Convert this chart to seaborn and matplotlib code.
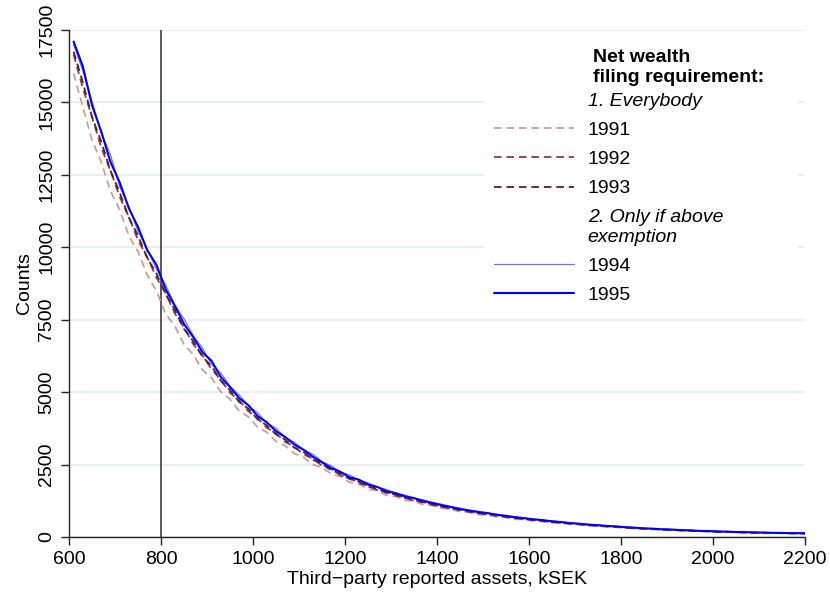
import matplotlib
matplotlib.use("Agg")
import matplotlib.pyplot as plt
from matplotlib.lines import Line2D
from matplotlib.patches import Rectangle
import numpy as np
import pandas as pd
import seaborn as sns

# Bin midpoints of third-party reported assets (kSEK)
assets = list(range(610, 2200, 20)) + [2200]

counts_1991 = [16000, 14850, 13700, 12950, 11950, 11300, 10400, 9850, 9050, 8500,
               7700, 7280, 6650, 6300, 5770, 5490, 5010, 4760, 4350, 4150,
               3790, 3620, 3300, 3150, 2880, 2750, 2500, 2400, 2180, 2090,
               1890, 1830, 1650, 1600, 1440, 1405, 1265, 1235, 1115, 1090,
               985, 962, 872, 852, 774, 758, 690, 676, 614, 603,
               550, 540, 491, 482, 439, 431, 393, 385, 352, 345,
               315, 307, 281, 276, 252, 246, 225, 221, 202, 198,
               181, 178, 164, 161, 148, 146, 136, 134, 126, 124, 120]

counts_1992 = [16650, 15500, 14500, 13450, 12650, 11750, 11050, 10250, 9660, 8960,
               8420, 7720, 7240, 6660, 6270, 5790, 5430, 4980, 4710, 4340,
               4100, 3770, 3580, 3280, 3120, 2850, 2710, 2460, 2350, 2130,
               2040, 1860, 1770, 1620, 1550, 1420, 1370, 1250, 1210, 1100,
               1068, 970, 945, 860, 840, 765, 750, 682, 668, 605,
               595, 540, 530, 480, 471, 427, 418, 380, 373, 339,
               331, 298, 294, 266, 262, 238, 235, 212, 209, 190,
               187, 171, 170, 155, 154, 141, 142, 130, 131, 121, 121]

counts_1993 = [16750, 15700, 14500, 13650, 12650, 11900, 11030, 10400, 9630, 9100,
               8380, 7840, 7180, 6760, 6220, 5900, 5390, 5070, 4660, 4430,
               4060, 3850, 3540, 3360, 3080, 2930, 2670, 2530, 2300, 2190,
               2000, 1910, 1740, 1670, 1520, 1470, 1345, 1295, 1185, 1140,
               1045, 1008, 922, 893, 820, 800, 732, 710, 650, 632,
               582, 565, 517, 502, 458, 446, 406, 398, 362, 355,
               322, 313, 285, 279, 254, 250, 228, 222, 203, 200,
               182, 179, 165, 162, 150, 148, 138, 136, 128, 127, 122]

counts_1994 = [17000, 16100, 15050, 13950, 13200, 12100, 11420, 10550, 9950, 9250,
               8700, 8020, 7530, 6950, 6520, 5950, 5660, 5200, 4900, 4530,
               4290, 3930, 3750, 3440, 3270, 3010, 2860, 2600, 2460, 2240,
               2140, 1970, 1870, 1720, 1640, 1510, 1455, 1335, 1285, 1175,
               1135, 1040, 1000, 915, 890, 822, 790, 728, 702, 648,
               626, 579, 557, 515, 492, 456, 436, 406, 389, 362,
               346, 319, 306, 285, 273, 254, 244, 227, 218, 203,
               196, 182, 177, 165, 161, 150, 148, 138, 137, 130, 128]

counts_1995 = [17100, 16250, 14900, 14000, 12950, 12250, 11350, 10700, 9900, 9400,
               8550, 7980, 7350, 6900, 6380, 6080, 5520, 5180, 4790, 4550,
               4170, 3960, 3650, 3450, 3190, 3010, 2770, 2580, 2380, 2250,
               2060, 1980, 1810, 1730, 1585, 1515, 1400, 1345, 1240, 1180,
               1095, 1040, 962, 918, 858, 826, 764, 730, 680, 650,
               607, 582, 541, 516, 478, 458, 425, 408, 380, 365,
               337, 321, 297, 287, 265, 257, 237, 229, 211, 206,
               189, 185, 171, 168, 156, 153, 143, 141, 132, 131, 127]

years = ["1991", "1992", "1993", "1994", "1995"]
series = [counts_1991, counts_1992, counts_1993, counts_1994, counts_1995]
threshold = 800

colors = {"1991": "#cc9e9e", "1992": "#8e3b3b", "1993": "#5c1f1f",
          "1994": "#6f6fff", "1995": "#0000ff"}
dash = (0, (4.2, 2.7))
styles = {"1991": dash, "1992": dash, "1993": dash, "1994": "-", "1995": "-"}
widths = {"1991": 1.3, "1992": 1.3, "1993": 1.3, "1994": 0.9, "1995": 1.5}

df = pd.DataFrame({
    "assets": np.tile(assets, len(years)),
    "count": np.concatenate([np.asarray(s, float) for s in series]),
    "year": np.repeat(years, len(assets)),
})

sns.set_style("ticks")
plt.rcParams["font.family"] = ["Liberation Sans", "DejaVu Sans"]
plt.rcParams["text.color"] = "black"
plt.rcParams["axes.labelcolor"] = "black"

W, H = 830, 593
fig = plt.figure(figsize=(W / 100, H / 100), dpi=100)
ax = fig.add_axes([69 / W, 56 / H, 736 / W, 507 / H])

for yr in years:
    sub = df[df["year"] == yr]
    sns.lineplot(data=sub, x="assets", y="count", ax=ax, color=colors[yr],
                 linestyle=styles[yr], linewidth=widths[yr], errorbar=None,
                 legend=False, zorder=3)

ax.axvline(threshold, color="#4d4d4d", lw=1.3, zorder=2.5)

ax.set_xlim(600, 2200)
ax.set_ylim(0, 17500)
ax.set_xticks(range(600, 2201, 200))
ax.set_yticks(range(0, 17501, 2500))
ax.yaxis.grid(True, color="#e7eff2", lw=1.3)
ax.xaxis.grid(False)
ax.set_axisbelow(True)

for side in ["top", "right"]:
    ax.spines[side].set_visible(False)
for side in ["left", "bottom"]:
    ax.spines[side].set_color("#222222")
    ax.spines[side].set_linewidth(1.0)

fs = 14
ax.tick_params(axis="both", colors="#222222", labelcolor="black",
               length=6, width=1.0, labelsize=fs)
ax.tick_params(axis="x", pad=4)
ax.tick_params(axis="y", pad=4)
for lab in ax.get_yticklabels():
    lab.set_rotation(90)
    lab.set_va("center")

ax.set_xlabel("Third\u2212party reported assets, kSEK", fontsize=fs, labelpad=2)
ax.set_ylabel("Counts", fontsize=fs, labelpad=4)

# white panel behind the key
fig.patches.append(Rectangle((485 / W, 1 - 312 / H), 313 / W, 220 / H,
                             transform=fig.transFigure, facecolor="white",
                             edgecolor="none", zorder=1))

blank = Line2D([], [], color="none")
handles = [blank,
           Line2D([], [], color=colors["1991"], ls=dash, lw=widths["1991"]),
           Line2D([], [], color=colors["1992"], ls=dash, lw=widths["1992"]),
           Line2D([], [], color=colors["1993"], ls=dash, lw=widths["1993"]),
           blank,
           Line2D([], [], color=colors["1994"], lw=widths["1994"]),
           Line2D([], [], color=colors["1995"], lw=widths["1995"])]
labels = ["1. Everybody", "1991", "1992", "1993",
          "2. Only if above\nexemption", "1994", "1995"]
leg = fig.legend(handles, labels, loc="upper left",
                 bbox_to_anchor=(494 / W, 1 - 92 / H),
                 frameon=False, fontsize=fs, handlelength=4.1,
                 handletextpad=0.72, labelspacing=0.6, borderpad=0,
                 borderaxespad=0, labelcolor="black")
texts = leg.get_texts()
texts[0].set_style("italic")
texts[4].set_style("italic")
for t in texts:
    t.set_linespacing(1.2)

fig.text(593 / W, 1 - 49 / H, "Net wealth\nfiling requirement:",
         fontsize=fs, fontweight="bold", ha="left", va="top", linespacing=1.2)

fig.savefig("out.png", dpi=100)
